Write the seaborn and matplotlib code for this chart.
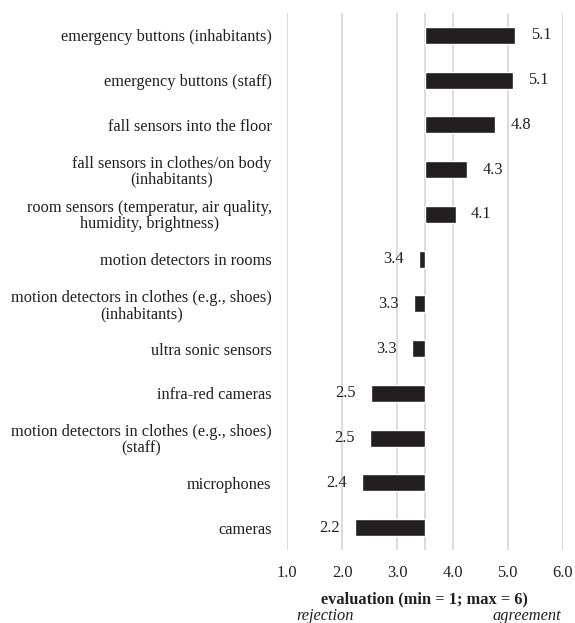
import numpy as np
import pandas as pd
import seaborn as sns
import matplotlib.pyplot as plt
from matplotlib.transforms import blended_transform_factory

# categories (top to bottom) and mean evaluation
categories = [
    "emergency buttons (inhabitants)",
    "emergency buttons (staff)",
    "fall sensors into the floor",
    "fall sensors in clothes/on body\n(inhabitants)",
    "room sensors (temperatur, air quality,\nhumidity, brightness)",
    "motion detectors in rooms",
    "motion detectors in clothes (e.g., shoes)\n(inhabitants)",
    "ultra sonic sensors",
    "infra-red cameras",
    "motion detectors in clothes (e.g., shoes)\n(staff)",
    "microphones",
    "cameras",
]
values = [5.14, 5.09, 4.77, 4.27, 4.06, 3.40, 3.31, 3.27, 2.52, 2.51, 2.36, 2.24]
midpoint = 3.5
xticks = [1.0, 2.0, 3.0, 4.0, 5.0, 6.0]

df = pd.DataFrame({"item": categories, "value": values})
df["diff"] = df["value"] - midpoint

sns.set_style("white")
plt.rcParams["font.family"] = ["Liberation Serif", "DejaVu Serif"]
fs = 11.8

fig = plt.figure(figsize=(5.75, 6.23), dpi=100)
ax = fig.add_axes([0.499, 0.117, 0.48, 0.862])

# bars diverge from the scale midpoint
sns.barplot(data=df, x="diff", y="item", color="#231f20", saturation=1,
            width=0.38, left=midpoint, ax=ax, zorder=3)

ax.bar_label(ax.containers[0], labels=[f"{v:.1f}" for v in values],
             padding=11, fontsize=fs, color="#231f20")

ax.set_xlim(1.0, 6.0)
ax.set_xticks(xticks)
ax.set_xticklabels([f"{t:.1f}" for t in xticks])
ax.set_ylim(len(categories) - 0.5, -0.5)
ax.grid(axis="x", color="#d9d9d9", linewidth=1.3, zorder=0)
ax.axvline(midpoint, color="#d9d9d9", linewidth=1.3, zorder=1)
for s in ax.spines.values():
    s.set_visible(False)

ax.tick_params(axis="y", length=0, pad=11, labelsize=fs, colors="#231f20")
ax.tick_params(axis="x", length=0, pad=11, labelsize=fs, colors="#231f20")
for lab in ax.get_yticklabels():
    lab.set_multialignment("center")
    lab.set_linespacing(1.0)

ax.set_ylabel("")
ax.set_xlabel("evaluation (min = 1; max = 6)", fontsize=fs, fontweight="bold",
              color="#231f20", labelpad=7)

trans = blended_transform_factory(ax.transData, ax.transAxes)
ax.text(1.7, -0.123, "rejection", transform=trans, ha="center", va="center",
        fontsize=fs, style="italic", color="#231f20")
ax.text(5.35, -0.123, "agreement", transform=trans, ha="center", va="center",
        fontsize=fs, style="italic", color="#231f20")

plt.savefig("out.png", dpi=100)
